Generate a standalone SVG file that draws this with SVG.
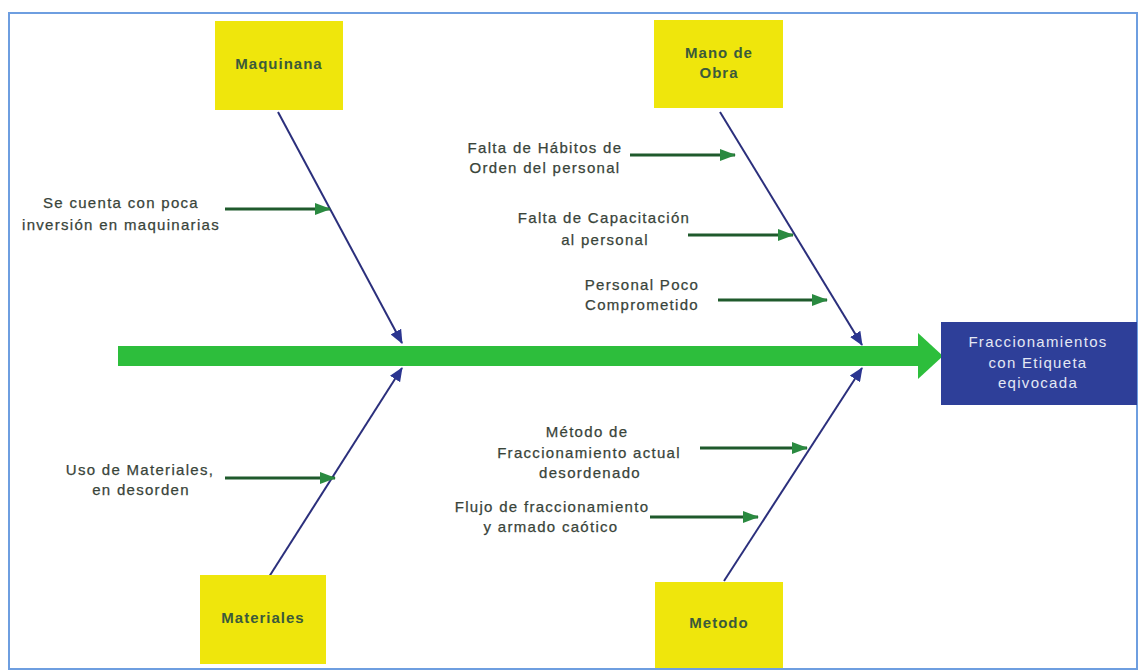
<svg xmlns="http://www.w3.org/2000/svg" width="1139" height="671" viewBox="0 0 1139 671">
  <style>
    .cat rect { fill: #EFE60C; }
    .cat text { font-family: "Liberation Sans", Arial, sans-serif; font-size: 15px; font-weight: bold; fill: #3B5A3B; letter-spacing: 1px; text-anchor: middle; }
    .cause { font-family: "Liberation Sans", Arial, sans-serif; font-size: 15px; fill: #39443A; letter-spacing: 1.3px; text-anchor: middle; stroke: #39443A; stroke-width: 0.25px; }
    .bone { stroke: #2B2F7C; stroke-width: 2; fill: none; marker-end: url(#navyHead); }
    .sub { stroke: #1F5A2C; stroke-width: 3; fill: none; marker-end: url(#greenHead); }
  </style>
  <defs>
    <marker id="navyHead" viewBox="0 0 14 12" refX="13" refY="6" markerWidth="14" markerHeight="12" markerUnits="userSpaceOnUse" orient="auto">
      <path d="M0,0 L14,6 L0,12 z" fill="#2B3590"/>
    </marker>
    <marker id="greenHead" viewBox="0 0 16 12" refX="15" refY="6" markerWidth="16" markerHeight="12" markerUnits="userSpaceOnUse" orient="auto">
      <path d="M0,0 L16,6 L0,12 z" fill="#2A8A40"/>
    </marker>
  </defs>

  <rect x="0" y="0" width="1139" height="671" fill="#ffffff"/>
  <!-- frame -->
  <rect x="9" y="13" width="1128" height="656" fill="none" stroke="#6E9EE0" stroke-width="2"/>

  <!-- main spine -->
  <g id="spine">
    <rect x="118" y="346" width="802" height="20" fill="#2DBE3C"/>
    <polygon points="918,333 943,356 918,379" fill="#2DBE3C"/>
  </g>

  <!-- category bones and cause arrows -->
  <g id="connectors">
    <line class="bone" x1="278" y1="112" x2="402" y2="343"/>
    <line class="bone" x1="267" y1="580" x2="402" y2="368"/>
    <line class="bone" x1="720" y1="112" x2="862" y2="345"/>
    <line class="bone" x1="724" y1="581" x2="862" y2="368"/>

    <line class="sub" x1="225" y1="209" x2="330" y2="209"/>
    <line class="sub" x1="225" y1="478" x2="335" y2="478"/>
    <line class="sub" x1="630" y1="155" x2="735" y2="155"/>
    <line class="sub" x1="688" y1="235" x2="793" y2="235"/>
    <line class="sub" x1="718" y1="300" x2="827" y2="300"/>
    <line class="sub" x1="700" y1="448" x2="807" y2="448"/>
    <line class="sub" x1="650" y1="517" x2="758" y2="517"/>
  </g>

  <!-- categories -->
  <g id="maquinaria" class="cat">
    <rect x="215" y="21" width="128" height="89"/>
    <text x="279" y="69">Maquinana</text>
  </g>
  <g id="mano-de-obra" class="cat">
    <rect x="654" y="20" width="129" height="88"/>
    <text x="719" y="58">Mano de</text>
    <text x="719" y="78">Obra</text>
  </g>
  <g id="materiales" class="cat">
    <rect x="200" y="575" width="126" height="89"/>
    <text x="263" y="623">Materiales</text>
  </g>
  <g id="metodo" class="cat">
    <rect x="655" y="582" width="128" height="86"/>
    <text x="719" y="628">Metodo</text>
  </g>

  <!-- effect -->
  <g id="efecto">
    <rect x="941" y="322" width="196" height="83" fill="#2E3F99"/>
    <g font-family="'Liberation Sans', Arial, sans-serif" font-size="15" fill="#E4E8F4" text-anchor="middle" letter-spacing="1.3">
      <text x="1038" y="347">Fraccionamientos</text>
      <text x="1038" y="368">con Etiqueta</text>
      <text x="1038" y="388">eqivocada</text>
    </g>
  </g>

  <!-- causes -->
  <g id="causa-inversion">
    <text class="cause" x="121" y="208">Se cuenta con poca</text>
    <text class="cause" x="121" y="230">inversión en maquinarias</text>
  </g>
  <g id="causa-uso-materiales">
    <text class="cause" x="140" y="475">Uso de Materiales,</text>
    <text class="cause" x="141" y="495">en desorden</text>
  </g>
  <g id="causa-habitos">
    <text class="cause" x="545" y="153">Falta de Hábitos de</text>
    <text class="cause" x="545" y="173">Orden del personal</text>
  </g>
  <g id="causa-capacitacion">
    <text class="cause" x="604" y="223">Falta de Capacitación</text>
    <text class="cause" x="605" y="245">al personal</text>
  </g>
  <g id="causa-compromiso">
    <text class="cause" x="642" y="290">Personal Poco</text>
    <text class="cause" x="642" y="310">Comprometido</text>
  </g>
  <g id="causa-metodo">
    <text class="cause" x="587" y="437">Método de</text>
    <text class="cause" x="589" y="458">Fraccionamiento actual</text>
    <text class="cause" x="590" y="478">desordenado</text>
  </g>
  <g id="causa-flujo">
    <text class="cause" x="552" y="512">Flujo de fraccionamiento</text>
    <text class="cause" x="551" y="532">y armado caótico</text>
  </g>
</svg>
